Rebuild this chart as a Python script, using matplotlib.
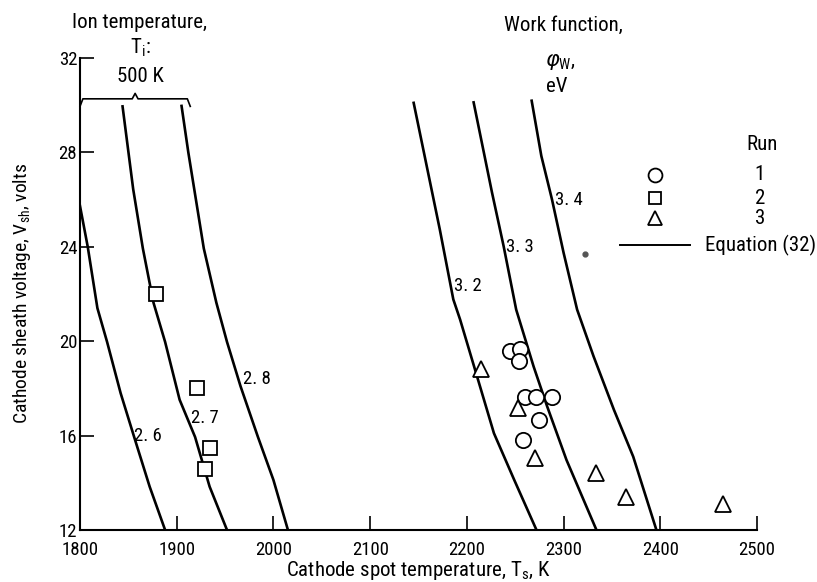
import numpy as np
import matplotlib
matplotlib.use("Agg")
import matplotlib.pyplot as plt
from matplotlib import font_manager

# pick a narrow sans if one is around, else Liberation Sans
installed = {f.name for f in font_manager.fontManager.ttflist}
font_name = 'DejaVu Sans'
for cand in ['Liberation Sans Narrow', 'DejaVu Sans Condensed', 'Roboto Condensed', 'Liberation Sans']:
    if cand in installed:
        font_name = cand
        break
narrow = font_name in ('Liberation Sans Narrow', 'DejaVu Sans Condensed', 'Roboto Condensed')
FS = 15 if narrow else 13      # titles, legend, axis labels
FS_T = 13.5 if narrow else 12  # tick and curve labels

plt.rcParams['font.family'] = [font_name, 'DejaVu Sans']
plt.rcParams['mathtext.fontset'] = 'dejavusans'

# Equation (32) curves: cathode spot temperature (K) vs sheath voltage (V)
curve_26_T = [1800, 1808, 1818, 1828, 1842, 1856, 1872, 1888]
curve_26_V = [25.73, 24.0, 21.4, 19.97, 17.8, 15.94, 13.84, 12.0]
curve_27_T = [1844, 1855, 1865, 1876, 1888, 1903, 1919, 1934, 1952]
curve_27_V = [29.95, 26.44, 23.93, 21.63, 19.97, 17.52, 15.94, 13.84, 12.0]
curve_28_T = [1905, 1912, 1928, 1941, 1952, 1966, 1984, 2000, 2015]
curve_28_V = [29.97, 28.0, 23.93, 21.63, 19.97, 18.09, 15.94, 14.12, 12.0]
curve_32_T = [2145, 2172, 2186, 2193, 2209, 2228, 2249, 2272]
curve_32_V = [30.1, 24.74, 21.77, 20.92, 18.72, 16.1, 14.12, 12.0]
curve_33_T = [2207, 2226, 2238, 2251, 2269, 2283, 2303, 2334]
curve_33_V = [30.12, 26.3, 24.03, 21.34, 18.93, 17.24, 14.97, 12.0]
curve_34_T = [2267, 2277, 2288, 2300, 2314, 2331, 2352, 2372, 2396]
curve_34_V = [30.19, 27.85, 26.01, 23.75, 21.34, 19.36, 17.1, 15.11, 12.0]

curves_T = [curve_26_T, curve_27_T, curve_28_T, curve_32_T, curve_33_T, curve_34_T]
curves_V = [curve_26_V, curve_27_V, curve_28_V, curve_32_V, curve_33_V, curve_34_V]
curve_labels = ['2. 6', '2. 7', '2. 8', '3. 2', '3. 3', '3. 4']
label_T = [1870, 1929, 1983, 2201, 2255, 2305]
label_V = [16.0, 16.73, 18.4, 22.35, 24.0, 26.0]

# measured points
run1_T = [2245, 2255, 2254, 2260, 2272, 2288, 2275, 2258]
run1_V = [19.57, 19.69, 19.15, 17.62, 17.62, 17.62, 16.66, 15.81]
run2_T = [1879, 1921, 1934, 1929]
run2_V = [22.0, 18.03, 15.49, 14.58]
run3_T = [2215, 2253, 2270, 2334, 2365, 2465]
run3_V = [18.84, 17.15, 15.04, 14.4, 13.4, 13.12]
speck_T = [2322]
speck_V = [23.7]

x_ticks = [1800, 1900, 2000, 2100, 2200, 2300, 2400, 2500]
y_ticks = [12, 16, 20, 24, 28, 32]

W, H = 817, 582
fig = plt.figure(figsize=(W / 100, H / 100), dpi=100)


def fx(px):
    return px / W


def fy(py):
    return 1 - py / H


ax_l, ax_r, ax_t, ax_b = 80, 757, 58, 530
ax = fig.add_axes([fx(ax_l), fy(ax_b), fx(ax_r) - fx(ax_l), fy(ax_t) - fy(ax_b)])
ax.set_xlim(1800, 2500)
ax.set_ylim(12, 32)
for side in ['top', 'right']:
    ax.spines[side].set_visible(False)
for side in ['left', 'bottom']:
    ax.spines[side].set_linewidth(1.5)
ax.set_xticks(x_ticks)
ax.set_yticks(y_ticks)
ax.tick_params(direction='in', length=10, width=1.2, labelsize=FS_T, pad=2)
ax.tick_params(axis='x', pad=8)

for T, V in zip(curves_T, curves_V):
    ax.plot(T, V, color='black', lw=1.9, solid_joinstyle='round')
for lab, t, v in zip(curve_labels, label_T, label_V):
    ax.text(t, v, lab, fontsize=FS_T, ha='center', va='center')

mk = dict(linestyle='none', markerfacecolor='white', markeredgecolor='black',
          markeredgewidth=1.3)
ax.plot(run1_T, run1_V, marker='o', markersize=11, **mk)
ax.plot(run2_T, run2_V, marker='s', markersize=10, **mk)
ax.plot(run3_T, run3_V, marker='^', markersize=11, **mk)
ax.plot(speck_T, speck_V, marker='o', markersize=3.5, linestyle='none',
        color='#555555')

# brace over the left-hand curves
bx = [1800, 1803, 1854, 1857, 1860, 1911, 1914]
by = [29.95, 30.27, 30.27, 30.5, 30.27, 30.27, 29.95]
ax.plot(bx, by, color='black', lw=1.2, clip_on=False)

ax.set_xlabel('Cathode spot temperature, T$_\\mathregular{s}$, K', fontsize=FS, labelpad=0)
ax.set_ylabel('Cathode sheath voltage, V$_\\mathregular{sh}$, volts', fontsize=14 if narrow else 12)
ax.yaxis.set_label_coords((33 - ax_l) / (ax_r - ax_l), (ax_b - 293) / (ax_b - ax_t))

# headers
fig.text(fx(140), fy(22), 'Ion temperature,', fontsize=FS, ha='center', va='center')
fig.text(fx(140), fy(48), 'T$_\\mathregular{i}$:', fontsize=FS, ha='center', va='center')
fig.text(fx(140), fy(77), '500 K', fontsize=FS, ha='center', va='center')
fig.text(fx(563), fy(25), 'Work function,', fontsize=FS, ha='center', va='center')
fig.text(fx(560), fy(62), '$\\varphi_\\mathregular{W}$,', fontsize=FS, ha='center', va='center')
fig.text(fx(557), fy(87), 'eV', fontsize=FS, ha='center', va='center')

# hand-drawn style legend
fig.text(fx(762), fy(145), 'Run', fontsize=FS, ha='center', va='center')
lg_y = [175, 198, 218]
lg_m = ['o', 's', '^']
lg_s = [10, 9, 10]
for yy, m, s, lab in zip(lg_y, lg_m, lg_s, ['1', '2', '3']):
    fig.add_artist(plt.Line2D([fx(655)], [fy(yy)], marker=m, markersize=s, **mk))
    fig.text(fx(760), fy(yy), lab, fontsize=FS, ha='center', va='center')
fig.add_artist(plt.Line2D([fx(620), fx(690)], [fy(245), fy(245)], color='black', lw=1.4))
fig.text(fx(705), fy(245), 'Equation (32)', fontsize=FS, ha='left', va='center')

fig.savefig('out.png', dpi=100)
